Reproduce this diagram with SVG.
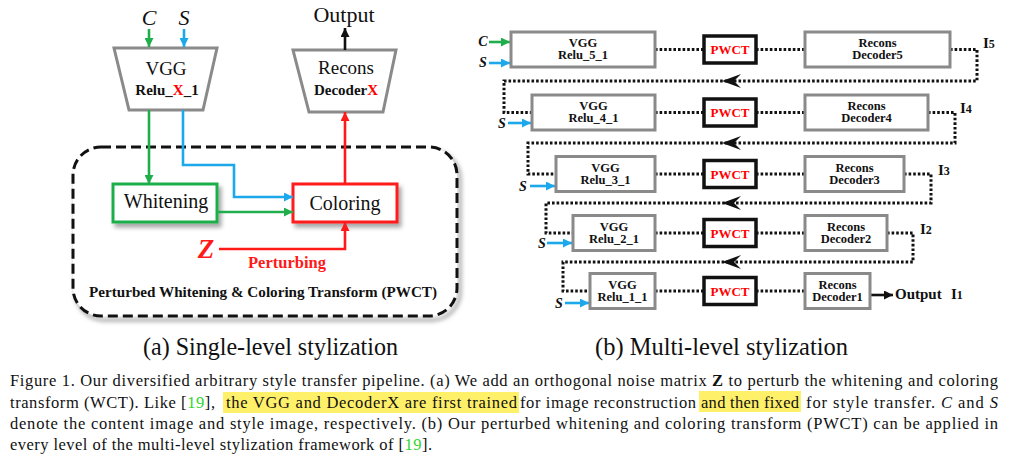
<svg xmlns="http://www.w3.org/2000/svg" width="1015" height="460" viewBox="0 0 1015 460" font-family="'Liberation Serif', serif">
<defs>
<style>
text{font-family:'Liberation Serif', serif;}
.b{font-weight:bold;}
.gray{fill:#fff;stroke:#8a8a8a;stroke-width:3;}
.pw{fill:#fff;stroke:#111;stroke-width:3.5;}
.dot{fill:none;stroke:#111;stroke-width:3;stroke-dasharray:2.6 2;}
.gl{fill:none;stroke:#1fae4b;stroke-width:2.6;}
.bl{fill:none;stroke:#1ca8ea;stroke-width:2.6;}
.rl{fill:none;stroke:#ff1a1a;stroke-width:2.6;}
.kl{fill:none;stroke:#111;stroke-width:2.6;}
.rt{font-size:12.5px;font-weight:bold;text-anchor:middle;fill:#111;}
.pt{font-size:13px;font-weight:bold;text-anchor:middle;fill:#ff0000;}
.sl{font-size:14px;font-weight:bold;font-style:italic;text-anchor:middle;fill:#111;}
.il{font-size:15px;font-weight:bold;fill:#111;}
.cap{font-size:16.5px;fill:#111;}
.hl{fill:#fff06a;}
.ref{fill:#2fd62f;}
</style>
<filter id="sh" x="-20%" y="-20%" width="150%" height="160%">
<feDropShadow dx="3" dy="4" stdDeviation="2.2" flood-color="#000" flood-opacity="0.35"/>
</filter>
<filter id="blur" x="-10%" y="-10%" width="120%" height="130%">
<feGaussianBlur stdDeviation="2.2"/>
</filter>
<marker id="ag" markerUnits="userSpaceOnUse" markerWidth="10" markerHeight="9" refX="9" refY="4.5" orient="auto"><path d="M0,0 L9,4.5 L0,9 z" fill="#1fae4b"/></marker>
<marker id="ab" markerUnits="userSpaceOnUse" markerWidth="10" markerHeight="9" refX="9" refY="4.5" orient="auto"><path d="M0,0 L9,4.5 L0,9 z" fill="#1ca8ea"/></marker>
<marker id="ar" markerUnits="userSpaceOnUse" markerWidth="10" markerHeight="9" refX="9" refY="4.5" orient="auto"><path d="M0,0 L9,4.5 L0,9 z" fill="#ff1a1a"/></marker>
<marker id="ak" markerUnits="userSpaceOnUse" markerWidth="10" markerHeight="9" refX="9" refY="4.5" orient="auto"><path d="M0,0 L9,4.5 L0,9 z" fill="#111"/></marker>
</defs>
<rect width="1015" height="460" fill="#fff"/>

<!-- ===== (a) single level ===== -->
<g id="pwct-frame">
<rect x="76" y="151" width="384" height="169" rx="28" fill="none" stroke="#9a9a9a" stroke-width="3" filter="url(#blur)"/>
<rect x="73" y="147" width="384" height="169" rx="28" fill="#fff" stroke="#111" stroke-width="3" stroke-dasharray="10 5"/>
<text x="263" y="297" class="b" font-size="15" text-anchor="middle" textLength="348" lengthAdjust="spacingAndGlyphs" fill="#111">Perturbed Whitening &amp; Coloring Transform (PWCT)</text>
</g>
<g id="input-C"><text x="149" y="25" font-size="22" font-style="italic" text-anchor="middle" fill="#111">C</text></g>
<g id="input-S"><text x="184" y="25" font-size="22" font-style="italic" text-anchor="middle" fill="#111">S</text></g>
<g id="vgg-a">
<polygon points="114,48 217,48 203,110 129,110" class="gray"/>
<text x="166" y="75" font-size="19" text-anchor="middle" fill="#111">VGG</text>
<text x="167" y="95" font-size="15" class="b" text-anchor="middle" fill="#111">Relu_<tspan fill="#ff0000">X</tspan>_1</text>
</g>
<g id="recons-a">
<polygon points="293,50 396,50 383,112 309,112" class="gray"/>
<text x="346" y="74" font-size="19" text-anchor="middle" fill="#111">Recons</text>
<text x="346" y="95" font-size="15" class="b" text-anchor="middle" fill="#111">Decoder<tspan fill="#ff0000">X</tspan></text>
</g>
<g id="output-a"><text x="344" y="22" font-size="22" text-anchor="middle" fill="#111">Output</text></g>
<g id="whitening">
<rect x="113" y="184" width="104" height="38" fill="#fff" stroke="#1fae4b" stroke-width="3" filter="url(#sh)"/>
<text x="166" y="208" font-size="20" text-anchor="middle" fill="#111">Whitening</text>
</g>
<g id="coloring">
<rect x="293" y="184" width="104" height="38" fill="#fff" stroke="#ff1a1a" stroke-width="3" filter="url(#sh)"/>
<text x="345" y="210" font-size="20" text-anchor="middle" fill="#111">Coloring</text>
</g>
<g id="noise-Z">
<text x="206" y="258" font-size="27" font-weight="bold" font-style="italic" text-anchor="middle" fill="#ff1a1a">Z</text>
</g>
<g id="connectors-a">
<path d="M149,29 L149,47" class="gl" marker-end="url(#ag)"/>
<path d="M184,29 L184,47" class="bl" marker-end="url(#ab)"/>
<path d="M149,110 L149,184" class="gl" marker-end="url(#ag)"/>
<path d="M183,110 L183,165 L234,165 L234,197 L293,197" class="bl" marker-end="url(#ab)"/>
<path d="M217,212 L293,212" class="gl" marker-end="url(#ag)"/>
<path d="M345,184 L345,112" class="rl" marker-end="url(#ar)"/>
<path d="M219,249 L345,249 L345,222" class="rl" marker-end="url(#ar)"/>
<path d="M345,50 L345,28" class="kl" marker-end="url(#ak)"/>
<text x="287" y="268" font-size="16.5" class="b" text-anchor="middle" fill="#ff1a1a">Perturbing</text>
</g>

<!-- ===== (b) multi level ===== -->
<g id="connectors-b">
<path d="M655,49.5 L704,49.5 M756,49.5 L805,49.5" class="dot"/>
<path d="M950,49.5 L977,49.5 L977,81 L504,81 L504,112.5 L532,112.5" class="dot"/>
<path d="M655,112.5 L704,112.5 M756,112.5 L805,112.5" class="dot"/>
<path d="M928,112.5 L955,112.5 L955,143 L528,143 L528,174 L556,174" class="dot"/>
<path d="M655,174 L704,174 M756,174 L805,174" class="dot"/>
<path d="M904,174 L931,174 L931,203 L546,203 L546,233 L573,233" class="dot"/>
<path d="M655,233 L704,233 M756,233 L805,233" class="dot"/>
<path d="M887,233 L913,233 L913,262 L563,262 L563,291 L590,291" class="dot"/>
<path d="M655,291 L704,291 M756,291 L805,291" class="dot"/>
<path d="M870,295 L893,295" class="kl" marker-end="url(#ak)"/>
<path d="M722,81 L741,74 L734,81 L741,88 z" fill="#111"/>
<path d="M722,143 L741,136 L734,143 L741,150 z" fill="#111"/>
<path d="M722,203 L741,196 L734,203 L741,210 z" fill="#111"/>
<path d="M722,262 L741,255 L734,262 L741,269 z" fill="#111"/>
<path d="M489,42 L510,42" class="gl" marker-end="url(#ag)"/>
<path d="M489,63 L510,63" class="bl" marker-end="url(#ab)"/>
<path d="M508,123 L531,123" class="bl" marker-end="url(#ab)"/>
<path d="M530,186 L555,186" class="bl" marker-end="url(#ab)"/>
<path d="M547,243 L572,243" class="bl" marker-end="url(#ab)"/>
<path d="M565,303 L589,303" class="bl" marker-end="url(#ab)"/>
</g>
<g id="inputs-b">
<text x="483" y="46" class="sl">C</text>
<text x="483" y="67" class="sl">S</text>
<text x="502" y="128" class="sl">S</text>
<text x="523" y="191" class="sl">S</text>
<text x="542" y="248" class="sl">S</text>
<text x="559" y="308" class="sl">S</text>
</g>
<g id="vgg5"><rect x="511" y="32" width="144" height="35" class="gray"/><text x="583" y="47" class="rt">VGG</text><text x="583" y="59" class="rt">Relu_5_1</text></g>
<g id="pwct5"><rect x="704" y="36" width="52" height="27" class="pw"/><text x="730" y="54" class="pt">PWCT</text></g>
<g id="recons5"><rect x="805" y="32" width="145" height="35" class="gray"/><text x="877.5" y="47" class="rt">Recons</text><text x="877.5" y="59" class="rt">Decoder5</text></g>
<g id="vgg4"><rect x="532" y="95" width="123" height="35" class="gray"/><text x="593.5" y="110" class="rt">VGG</text><text x="593.5" y="122" class="rt">Relu_4_1</text></g>
<g id="pwct4"><rect x="704" y="99" width="52" height="27" class="pw"/><text x="730" y="117" class="pt">PWCT</text></g>
<g id="recons4"><rect x="805" y="95" width="123" height="35" class="gray"/><text x="866.5" y="110" class="rt">Recons</text><text x="866.5" y="122" class="rt">Decoder4</text></g>
<g id="vgg3"><rect x="556" y="156.5" width="99" height="35" class="gray"/><text x="605.5" y="171.5" class="rt">VGG</text><text x="605.5" y="183.5" class="rt">Relu_3_1</text></g>
<g id="pwct3"><rect x="704" y="160.5" width="52" height="27" class="pw"/><text x="730" y="178.5" class="pt">PWCT</text></g>
<g id="recons3"><rect x="805" y="156.5" width="99" height="35" class="gray"/><text x="854.5" y="171.5" class="rt">Recons</text><text x="854.5" y="183.5" class="rt">Decoder3</text></g>
<g id="vgg2"><rect x="573" y="215.5" width="82" height="35" class="gray"/><text x="614" y="230.5" class="rt">VGG</text><text x="614" y="242.5" class="rt">Relu_2_1</text></g>
<g id="pwct2"><rect x="704" y="219.5" width="52" height="27" class="pw"/><text x="730" y="237.5" class="pt">PWCT</text></g>
<g id="recons2"><rect x="805" y="215.5" width="82" height="35" class="gray"/><text x="846" y="230.5" class="rt">Recons</text><text x="846" y="242.5" class="rt">Decoder2</text></g>
<g id="vgg1"><rect x="590" y="273.5" width="65" height="35" class="gray"/><text x="622.5" y="288.5" class="rt">VGG</text><text x="622.5" y="300.5" class="rt">Relu_1_1</text></g>
<g id="pwct1"><rect x="704" y="277.5" width="52" height="27" class="pw"/><text x="730" y="295.5" class="pt">PWCT</text></g>
<g id="recons1"><rect x="805" y="273.5" width="65" height="35" class="gray"/><text x="837.5" y="288.5" class="rt">Recons</text><text x="837.5" y="300.5" class="rt">Decoder1</text></g>
<g id="labels-b">
<text x="983" y="48" class="il">I<tspan font-size="12">5</tspan></text>
<text x="960" y="113" class="il">I<tspan font-size="12">4</tspan></text>
<text x="938" y="175" class="il">I<tspan font-size="12">3</tspan></text>
<text x="920" y="234" class="il">I<tspan font-size="12">2</tspan></text>
<text x="895" y="299" class="il">Output</text>
<text x="951" y="299" class="il">I<tspan font-size="12">1</tspan></text>
</g>

<g id="captions">
<text x="143" y="355" font-size="25" textLength="255" lengthAdjust="spacingAndGlyphs" fill="#111">(a) Single-level stylization</text>
<text x="595" y="355" font-size="25" textLength="253" lengthAdjust="spacingAndGlyphs" fill="#111">(b) Multi-level stylization</text>
<rect x="223" y="392" width="296" height="21" class="hl"/>
<rect x="699" y="391" width="102" height="21" class="hl"/>
<text x="10" y="386" class="cap" textLength="988" lengthAdjust="spacing">Figure 1. Our diversified arbitrary style transfer pipeline. (a) We add an orthogonal noise matrix <tspan font-weight="bold">Z</tspan> to perturb the whitening and coloring</text>
<text x="10" y="407.5" class="cap" textLength="205" lengthAdjust="spacing">transform (WCT). Like [<tspan class="ref">19</tspan>],</text>
<text x="226" y="407.5" class="cap" textLength="291" lengthAdjust="spacing">the VGG and DecoderX are first trained</text>
<text x="520" y="407.5" class="cap" textLength="176" lengthAdjust="spacing">for image reconstruction</text>
<text x="701" y="407.5" class="cap" textLength="98" lengthAdjust="spacing">and then fixed</text>
<text x="806" y="407.5" class="cap" textLength="192" lengthAdjust="spacing">for style transfer. <tspan font-style="italic">C</tspan> and <tspan font-style="italic">S</tspan></text>
<text x="10" y="429" class="cap" textLength="988" lengthAdjust="spacing">denote the content image and style image, respectively. (b) Our perturbed whitening and coloring transform (PWCT) can be applied in</text>
<text x="10" y="450" class="cap" textLength="422" lengthAdjust="spacing">every level of the multi-level stylization framework of [<tspan class="ref">19</tspan>].</text>
</g>
</svg>
